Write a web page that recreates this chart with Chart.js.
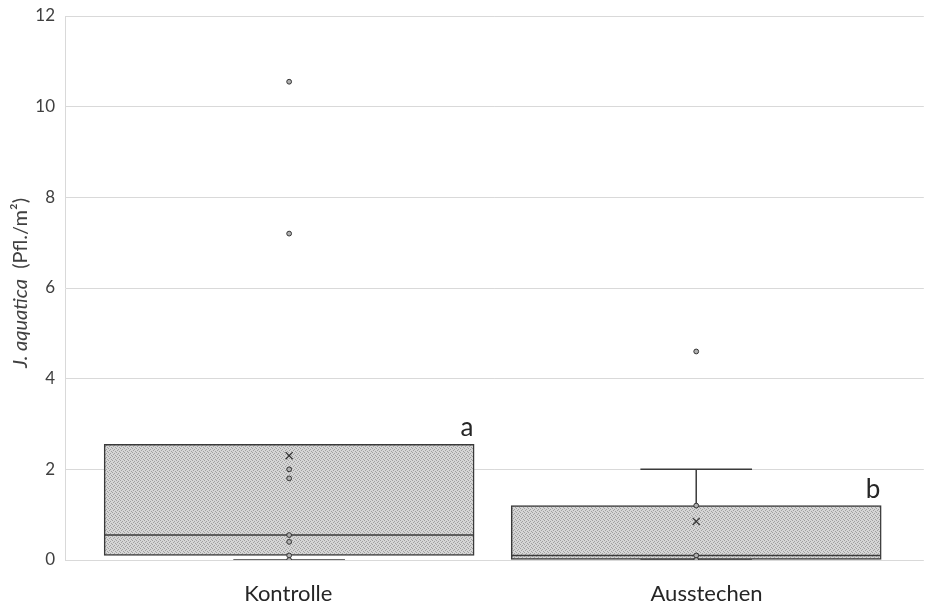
<!DOCTYPE html>
<html>
<head>
<meta charset="utf-8">
<script src="https://cdn.jsdelivr.net/npm/chart.js@4/dist/chart.umd.min.js"></script>
<style>
  html, body { margin: 0; padding: 0; background: #ffffff; }
  #wrap { width: 930px; height: 605px; }
</style>
</head>
<body>
<div id="wrap"><canvas id="chart" width="930" height="605"></canvas></div>
<script>
// Box plot of J. aquatica density per treatment
const categories = ['Kontrolle', 'Ausstechen'];
const quartileLow = [0.1, 0];
const quartileHigh = [2.55, 1.2];
const medians = [0.55, 0.1];
const whiskerLow = [0, 0];
const whiskerHigh = [2.55, 2.0];
const means = [2.3, 0.85];
const pointsKontrolle = [10.55, 7.2, 2.0, 1.8, 0.55, 0.4, 0.1, 0];
const pointsAusstechen = [4.6, 1.2, 0.1, 0];
const groupLetters = ['a', 'b'];
const yTicks = [0, 2, 4, 6, 8, 10, 12];

// horizontal layout of the two groups on a 0..1 x scale
const slotPos = [0.261, 0.735];
const labelPos = [0.26, 0.747];
const boxHalf = 0.2145;
const capHalf = 0.065;
const allPoints = [pointsKontrolle, pointsAusstechen];

// fine dotted grey fill used by the boxes
function dotPattern() {
  const c = document.createElement('canvas');
  c.width = 4; c.height = 4;
  const g = c.getContext('2d');
  g.fillStyle = '#d6d6d6';
  g.fillRect(0, 0, 4, 4);
  g.fillStyle = '#a0a0a0';
  [[0, 0], [2, 1], [1, 2], [3, 3]].forEach(([x, y]) => g.fillRect(x, y, 1, 1));
  return g.createPattern(c, 'repeat');
}

const lineColor = '#3a3a3a';
const datasets = [];

function segment(x1, y1, x2, y2) {
  datasets.push({
    type: 'line',
    data: [{ x: x1, y: y1 }, { x: x2, y: y2 }],
    borderColor: lineColor,
    borderWidth: 1.5,
    pointRadius: 0,
    showLine: true,
    fill: false,
    order: 2
  });
}

categories.forEach((c, i) => {
  const p = slotPos[i];
  // whiskers and caps
  if (whiskerLow[i] < quartileLow[i]) segment(p, whiskerLow[i], p, quartileLow[i]);
  if (whiskerHigh[i] > quartileHigh[i]) segment(p, quartileHigh[i], p, whiskerHigh[i]);
  segment(p - capHalf, whiskerLow[i], p + capHalf, whiskerLow[i]);
  if (whiskerHigh[i] > quartileHigh[i]) segment(p - capHalf, whiskerHigh[i], p + capHalf, whiskerHigh[i]);
});

// boxes
datasets.push({
  type: 'bar',
  data: categories.map((c, i) => ({ x: slotPos[i], y: [quartileLow[i], quartileHigh[i]] })),
  backgroundColor: dotPattern(),
  borderColor: lineColor,
  borderWidth: 1.5,
  borderSkipped: false,
  barThickness: 370,
  order: 5
});

// medians
categories.forEach((c, i) => {
  segment(slotPos[i] - boxHalf, medians[i], slotPos[i] + boxHalf, medians[i]);
});

// individual observations
allPoints.forEach((pts, i) => {
  datasets.push({
    type: 'scatter',
    data: pts.map(v => ({ x: slotPos[i], y: v })),
    pointStyle: 'circle',
    pointRadius: 2.4,
    backgroundColor: '#b0b0b0',
    borderColor: '#333333',
    borderWidth: 1,
    order: 0
  });
});

// means
datasets.push({
  type: 'scatter',
  data: categories.map((c, i) => ({ x: slotPos[i], y: means[i] })),
  pointStyle: 'crossRot',
  pointRadius: 5,
  borderColor: '#333333',
  borderWidth: 1.2,
  order: 0
});

// y-axis title with italic species name, and group letters above boxes
const annotations = {
  id: 'annotations',
  afterDraw(chart) {
    const ctx = chart.ctx;
    const xs = chart.scales.x, ys = chart.scales.y;
    ctx.save();
    ctx.fillStyle = '#262626';
    ctx.font = '26px Lato';
    ctx.textAlign = 'right';
    ctx.textBaseline = 'alphabetic';
    categories.forEach((c, i) => {
      const xr = xs.getPixelForValue(slotPos[i] + boxHalf);
      const yt = ys.getPixelForValue(quartileHigh[i]);
      ctx.fillText(groupLetters[i], xr, yt - 8);
    });
    ctx.restore();

    ctx.save();
    const area = chart.chartArea;
    ctx.translate(21, (area.top + area.bottom) / 2 - 5);
    ctx.rotate(-Math.PI / 2);
    ctx.fillStyle = '#404040';
    ctx.textBaseline = 'middle';
    ctx.textAlign = 'left';
    const italicFont = 'italic 20px Lato';
    const normalFont = '20px Lato';
    const a = 'J. aquatica';
    const b = '  (Pfl./m²)';
    ctx.font = italicFont;
    const wa = ctx.measureText(a).width;
    ctx.font = normalFont;
    const wb = ctx.measureText(b).width;
    const x0 = -(wa + wb) / 2;
    ctx.font = italicFont;
    ctx.fillText(a, x0, 0);
    ctx.font = normalFont;
    ctx.fillText(b, x0 + wa, 0);
    ctx.restore();
  }
};

new Chart(document.getElementById('chart'), {
  type: 'scatter',
  data: { datasets },
  plugins: [annotations],
  options: {
    responsive: false,
    animation: false,
    events: [],
    layout: { padding: { top: 0, right: 5, left: 0, bottom: 0 } },
    plugins: { legend: { display: false }, tooltip: { enabled: false } },
    scales: {
      x: {
        type: 'linear',
        min: 0,
        max: 1,
        offset: false,
        grid: { display: false },
        border: { display: false },
        afterFit(scale) { scale.height = 45; },
        afterBuildTicks(scale) { scale.ticks = labelPos.map(v => ({ value: v })); },
        ticks: {
          autoSkip: false,
          maxRotation: 0,
          padding: 13,
          color: '#262626',
          font: { family: 'Lato', size: 22 },
          callback: (v, i) => categories[i]
        }
      },
      y: {
        type: 'linear',
        min: 0,
        max: 12,
        afterFit(scale) { scale.width = 65; scale.paddingTop = 16; },
        afterBuildTicks(scale) { scale.ticks = yTicks.map(v => ({ value: v })); },
        grid: { color: '#d9d9d9', lineWidth: 1, drawTicks: false },
        border: { display: true, color: '#d9d9d9' },
        ticks: {
          padding: 10,
          color: '#404040',
          font: { family: 'Lato', size: 17 }
        }
      }
    }
  }
});
</script>
</body>
</html>
